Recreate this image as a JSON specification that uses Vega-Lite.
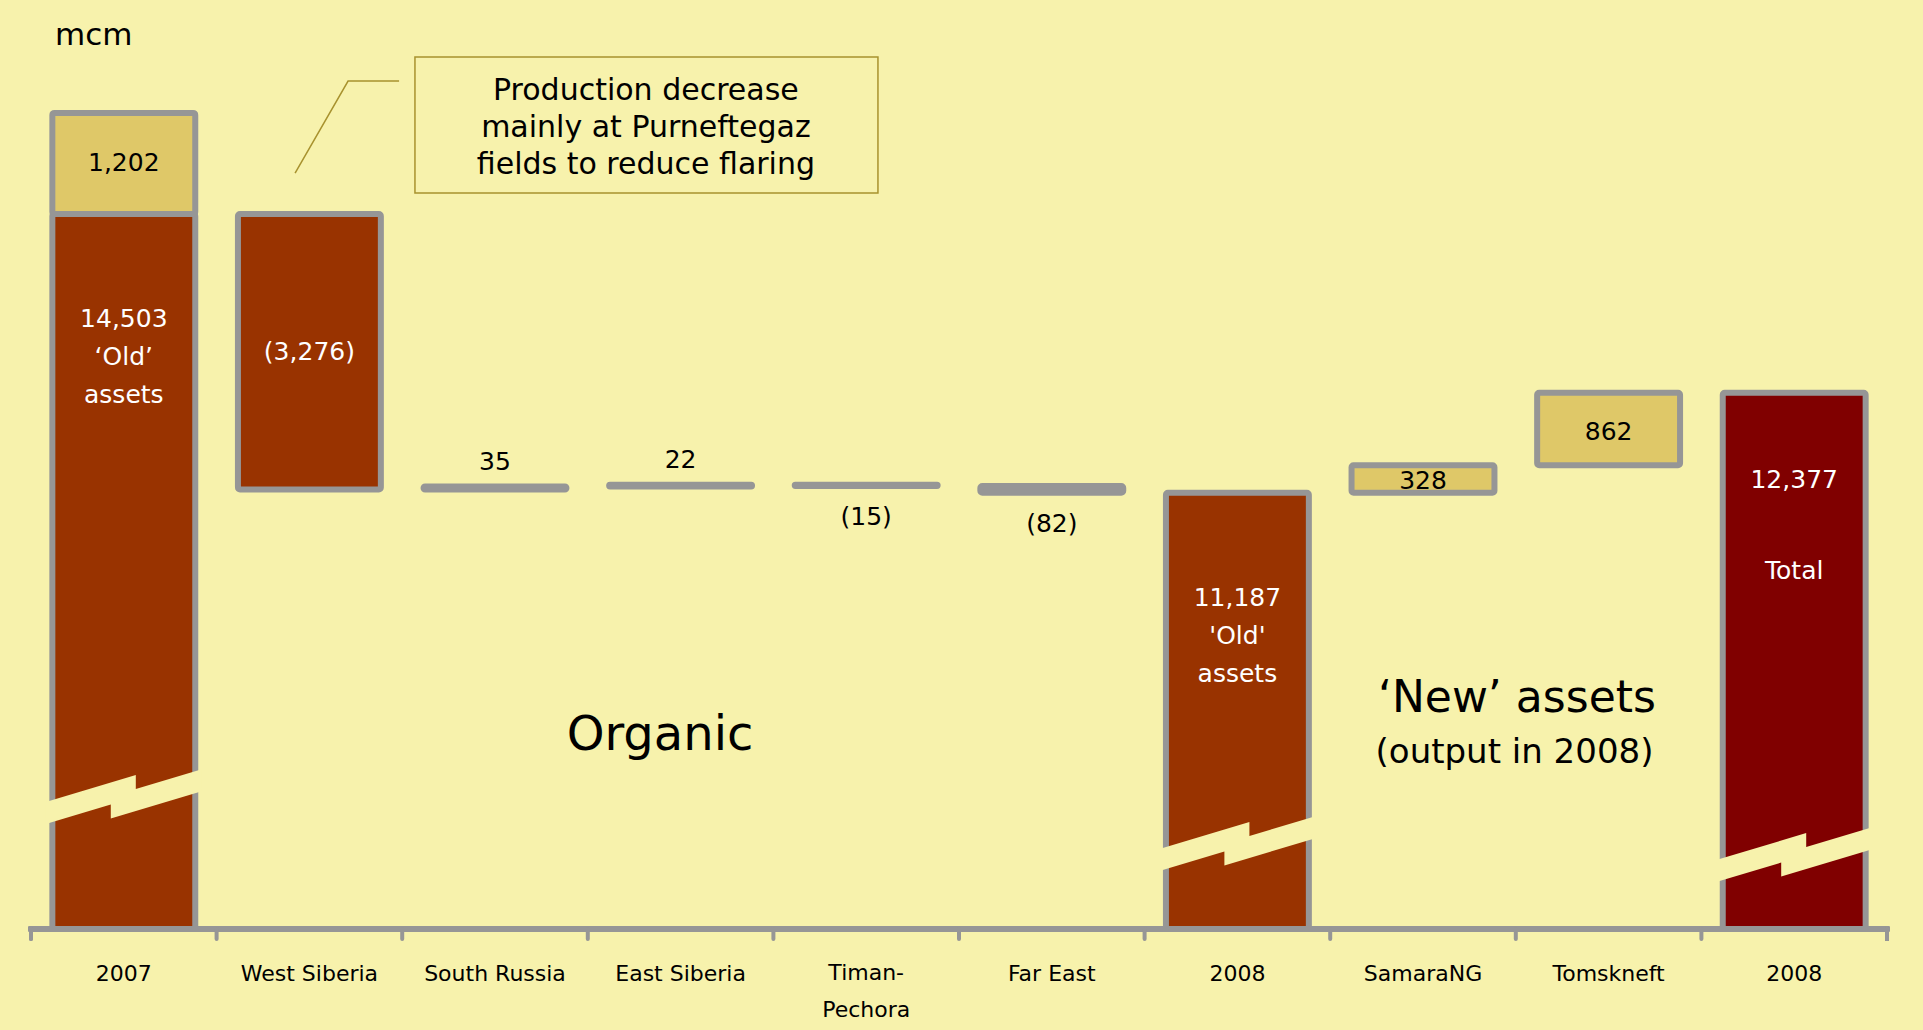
{
  "$schema": "https://vega.github.io/schema/vega-lite/v6.json",
  "width": 1856,
  "height": 925,
  "autosize": {"type": "none"},
  "padding": {"left": 31, "top": 4, "right": 36, "bottom": 101},
  "background": "#F7F2AC",
  "config": {"view": {"stroke": null}, "font": "DejaVu Sans"},
  "data": {
    "values": [
      {"category": "2007", "part": "old", "lo": 0, "hi": 14503, "label": ["14,503", "\u2018Old\u2019", "assets"]},
      {"category": "2007", "part": "new", "lo": 14503, "hi": 15705, "label": "1,202"},
      {"category": "West Siberia", "part": "old", "lo": 11227, "hi": 14503, "label": "(3,276)"},
      {"category": "South Russia", "part": "change", "lo": 11227, "hi": 11262, "label": "35"},
      {"category": "East Siberia", "part": "change", "lo": 11262, "hi": 11284, "label": "22"},
      {"category": "Timan-Pechora", "part": "change", "lo": 11269, "hi": 11284, "label": "(15)"},
      {"category": "Far East", "part": "change", "lo": 11187, "hi": 11269, "label": "(82)"},
      {"category": "2008 old", "part": "old", "lo": 0, "hi": 11187, "label": ["11,187", "'Old'", "assets"]},
      {"category": "SamaraNG", "part": "new", "lo": 11187, "hi": 11515, "label": "328"},
      {"category": "Tomskneft", "part": "new", "lo": 11515, "hi": 12377, "label": "862"},
      {"category": "2008 total", "part": "total", "lo": 0, "hi": 12377, "label": ["12,377", "Total"]}
    ]
  },
  "layer": [
    {
      "mark": {"type": "bar", "width": {"band": 0.77}, "stroke": "#969696", "strokeWidth": 6, "cornerRadius": 2, "clip": true},
      "encoding": {
        "x": {
          "field": "category", "type": "nominal",
          "scale": {
            "domain": ["2007", "West Siberia", "South Russia", "East Siberia", "Timan-Pechora", "Far East", "2008 old", "SamaraNG", "Tomskneft", "2008 total"],
            "paddingInner": 0, "paddingOuter": 0
          },
          "axis": {
            "title": null, "domain": false, "ticks": false,
            "labelFontSize": 22, "labelColor": "#000000", "labelPadding": 34,
            "labelAngle": 0, "labelOverlap": false, "labelLimit": 300,
            "labelExpr": "datum.value == '2008 old' || datum.value == '2008 total' ? '2008' : (datum.value == 'Timan-Pechora' ? '' : datum.value)"
          }
        },
        "y": {"field": "hi", "type": "quantitative", "scale": {"domain": [6000, 17000], "nice": false, "zero": false}, "axis": null},
        "y2": {"field": "lo"},
        "fill": {"field": "part", "type": "nominal", "scale": {"domain": ["old", "new", "change", "total"], "range": ["#993300", "#DFC868", "#969696", "#800000"]}, "legend": null}
      }
    },
    {
      "data": {"values": [{"category": "2007", "at": 7558}, {"category": "2008 old", "at": 6999}, {"category": "2008 total", "at": 6868}]},
      "mark": {"type": "point", "shape": "M-1.0263,0.0533L0.1579,-0.302L0.1579,-0.1178L1.0263,-0.3783L1.0263,-0.0888L-0.1711,0.2704L-0.1711,0.0862L-1.0263,0.3428Z", "size": 23104, "filled": true, "fill": "#F7F2AC", "strokeWidth": 0, "opacity": 1},
      "encoding": {
        "x": {"field": "category", "type": "nominal"},
        "y": {"field": "at", "type": "quantitative"}
      }
    },
    {
      "mark": {"type": "rule", "stroke": "#969696", "strokeWidth": 6, "strokeCap": "round"},
      "encoding": {"y": {"datum": 6000, "type": "quantitative"}}
    },
    {
      "mark": {"type": "rule", "stroke": "#969696", "strokeWidth": 4, "strokeCap": "round"},
      "encoding": {
        "x": {"field": "category", "type": "nominal", "bandPosition": 0},
        "y": {"datum": 6000, "type": "quantitative"},
        "y2": {"datum": 5881}
      }
    },
    {
      "mark": {"type": "rule", "stroke": "#969696", "strokeWidth": 4, "strokeCap": "round"},
      "encoding": {
        "x": {"datum": "2008 total", "type": "nominal", "bandPosition": 1},
        "y": {"datum": 6000, "type": "quantitative"},
        "y2": {"datum": 5881}
      }
    },
    {
      "transform": [{"filter": "datum.category == '2007' && datum.part == 'new'"}],
      "mark": {"type": "text", "fontSize": 25, "baseline": "middle", "align": "center", "dy": 50, "color": "#000000"},
      "encoding": {"x": {"field": "category", "type": "nominal"}, "y": {"field": "hi", "type": "quantitative"}, "text": {"field": "label", "type": "nominal"}}
    },
    {
      "transform": [{"filter": "datum.category == 'West Siberia'"}],
      "mark": {"type": "text", "fontSize": 25, "baseline": "middle", "align": "center", "dy": 138, "color": "#FFFFFF"},
      "encoding": {"x": {"field": "category", "type": "nominal"}, "y": {"field": "hi", "type": "quantitative"}, "text": {"field": "label", "type": "nominal"}}
    },
    {
      "transform": [{"filter": "datum.category == 'SamaraNG'"}],
      "mark": {"type": "text", "fontSize": 25, "baseline": "middle", "align": "center", "dy": 16, "color": "#000000"},
      "encoding": {"x": {"field": "category", "type": "nominal"}, "y": {"field": "hi", "type": "quantitative"}, "text": {"field": "label", "type": "nominal"}}
    },
    {
      "transform": [{"filter": "datum.category == 'Tomskneft'"}],
      "mark": {"type": "text", "fontSize": 25, "baseline": "middle", "align": "center", "dy": 39, "color": "#000000"},
      "encoding": {"x": {"field": "category", "type": "nominal"}, "y": {"field": "hi", "type": "quantitative"}, "text": {"field": "label", "type": "nominal"}}
    },
    {
      "transform": [{"filter": "datum.category == 'South Russia' || datum.category == 'East Siberia'"}],
      "mark": {"type": "text", "fontSize": 25, "baseline": "middle", "align": "center", "dy": -25, "color": "#000000"},
      "encoding": {"x": {"field": "category", "type": "nominal"}, "y": {"field": "hi", "type": "quantitative"}, "text": {"field": "label", "type": "nominal"}}
    },
    {
      "transform": [{"filter": "datum.category == 'Timan-Pechora' || datum.category == 'Far East'"}],
      "mark": {"type": "text", "fontSize": 25, "baseline": "middle", "align": "center", "dy": 31, "color": "#000000"},
      "encoding": {"x": {"field": "category", "type": "nominal"}, "y": {"field": "lo", "type": "quantitative"}, "text": {"field": "label", "type": "nominal"}}
    },
    {
      "transform": [{"filter": "datum.part == 'old' && datum.lo == 0"}],
      "mark": {"type": "text", "fontSize": 25, "baseline": "alphabetic", "align": "center", "dy": 113, "lineHeight": 38, "color": "#FFFFFF"},
      "encoding": {"x": {"field": "category", "type": "nominal"}, "y": {"field": "hi", "type": "quantitative"}, "text": {"field": "label", "type": "nominal"}}
    },
    {
      "transform": [{"filter": "datum.part == 'total'"}],
      "mark": {"type": "text", "fontSize": 25, "baseline": "alphabetic", "align": "center", "dy": 95, "lineHeight": 91, "color": "#FFFFFF"},
      "encoding": {"x": {"field": "category", "type": "nominal"}, "y": {"field": "hi", "type": "quantitative"}, "text": {"field": "label", "type": "nominal"}}
    },
    {
      "data": {"values": [{"note": "annotation"}]},
      "layer": [
        {
          "mark": {"type": "point", "shape": "M-1,-0.2937L1,-0.2937L1,0.2937L-1,0.2937Z", "size": 214369, "filled": false, "stroke": "#A8922E", "strokeWidth": 1.5, "opacity": 1},
          "encoding": {"x": {"datum": "East Siberia", "type": "nominal", "bandPosition": 0.316}, "y": {"datum": 15561, "type": "quantitative"}}
        },
        {
          "mark": {"type": "point", "shape": "M-1,0.885L0.019,-0.885L1,-0.885", "size": 10816, "filled": false, "stroke": "#A8922E", "strokeWidth": 1.5, "opacity": 1},
          "encoding": {"x": {"datum": "West Siberia", "type": "nominal", "bandPosition": 0.703}, "y": {"datum": 15537, "type": "quantitative"}}
        },
        {
          "mark": {"type": "text", "text": ["Timan-", "Pechora"], "lineHeight": 37, "fontSize": 22, "align": "center", "baseline": "alphabetic", "color": "#000000"},
          "encoding": {"x": {"datum": "Timan-Pechora", "type": "nominal"}, "y": {"datum": 5394, "type": "quantitative"}}
        },
        {
          "mark": {"type": "text", "text": "mcm", "fontSize": 31, "align": "left", "baseline": "alphabetic", "color": "#000000"},
          "encoding": {"x": {"datum": "2007", "type": "nominal", "bandPosition": 0.129}, "y": {"datum": 16512, "type": "quantitative"}}
        },
        {
          "mark": {"type": "text", "text": ["Production decrease", "mainly at Purneftegaz", "fields to reduce flaring"], "lineHeight": 37, "fontSize": 30, "align": "center", "baseline": "alphabetic", "color": "#000000"},
          "encoding": {"x": {"datum": "East Siberia", "type": "nominal", "bandPosition": 0.313}, "y": {"datum": 15858, "type": "quantitative"}}
        },
        {
          "mark": {"type": "text", "text": "Organic", "fontSize": 48, "align": "center", "baseline": "alphabetic", "color": "#000000"},
          "encoding": {"x": {"datum": "East Siberia", "type": "nominal", "bandPosition": 0.389}, "y": {"datum": 8129, "type": "quantitative"}}
        },
        {
          "mark": {"type": "text", "text": "\u2018New\u2019 assets", "fontSize": 44, "align": "center", "baseline": "alphabetic", "color": "#000000"},
          "encoding": {"x": {"datum": "Tomskneft", "type": "nominal", "bandPosition": 0.006}, "y": {"datum": 8581, "type": "quantitative"}}
        },
        {
          "mark": {"type": "text", "text": "(output in 2008)", "fontSize": 34, "align": "center", "baseline": "alphabetic", "color": "#000000"},
          "encoding": {"x": {"datum": "SamaraNG", "type": "nominal", "bandPosition": 0.993}, "y": {"datum": 7974, "type": "quantitative"}}
        }
      ]
    }
  ]
}
